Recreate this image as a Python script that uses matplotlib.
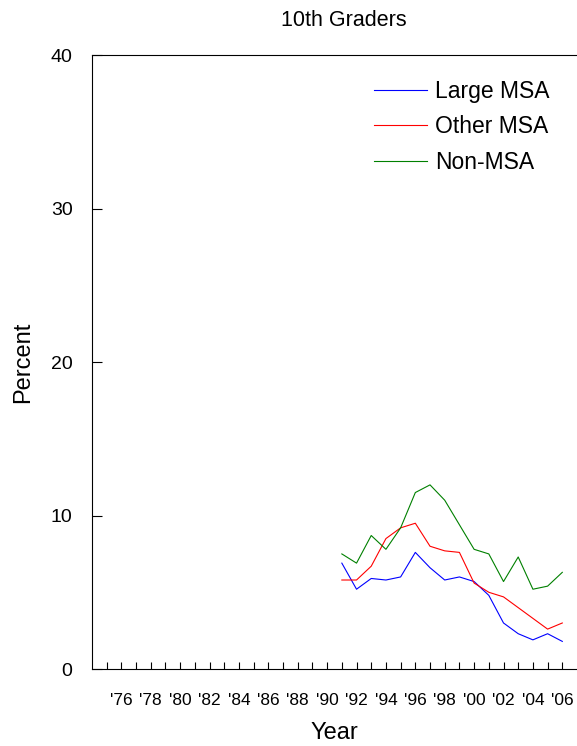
import matplotlib
matplotlib.use("Agg")
import matplotlib.pyplot as plt
import numpy as np

plt.rcParams['font.family'] = ['Liberation Sans', 'DejaVu Sans']

years = list(range(1991, 2007))
large_msa = [6.9, 5.2, 5.9, 5.8, 6.0, 7.6, 6.6, 5.8, 6.0, 5.7, 4.8, 3.0, 2.3, 1.9, 2.3, 1.8]
other_msa = [5.8, 5.8, 6.7, 8.5, 9.2, 9.5, 8.0, 7.7, 7.6, 5.6, 5.0, 4.7, 4.0, 3.3, 2.6, 3.0]
non_msa = [7.5, 6.9, 8.7, 7.8, 9.2, 11.5, 12.0, 11.0, 9.4, 7.8, 7.5, 5.7, 7.3, 5.2, 5.4, 6.3]

tick_years = list(range(1976, 2007, 2))
tick_labels = ["'%02d" % (y % 100) for y in tick_years]

fig = plt.figure(figsize=(5.77, 7.46), dpi=100)
ax = fig.add_axes([0.1594, 0.1032, 0.8406, 0.8228])

ax.plot(years, large_msa, color="#0000ff", lw=0.8, label="Large MSA")
ax.plot(years, other_msa, color="#ff0000", lw=0.8, label="Other MSA")
ax.plot(years, non_msa, color="#008000", lw=0.8, label="Non-MSA")

ax.set_xlim(1974, 2007)
ax.set_ylim(0, 40)
ax.set_yticks([0, 10, 20, 30, 40])
ax.set_xticks(tick_years)
ax.set_xticklabels(tick_labels, fontsize=12.5)
ax.set_xticks(np.arange(1975, 2007), minor=True)
ax.tick_params(axis='x', which='both', direction='in', length=5, width=0.8, pad=17)
ax.tick_params(axis='y', direction='in', length=7, width=0.8, labelsize=14, pad=14)
ax.spines['right'].set_visible(False)
for s in ['left', 'bottom', 'top']:
    ax.spines[s].set_linewidth(0.8)

ax.set_xlabel("Year", fontsize=17, labelpad=10)
ax.set_ylabel("Percent", fontsize=17, labelpad=12)
fig.text(0.595, 0.973, "10th Graders", ha='center', va='center', fontsize=15.5)

fig.legend(loc='upper left', bbox_to_anchor=(0.648, 0.893), frameon=False,
           fontsize=16.5, handlelength=2.3, handletextpad=0.35, labelspacing=0.55,
           borderpad=0, borderaxespad=0)

fig.savefig("out.png", dpi=100)
